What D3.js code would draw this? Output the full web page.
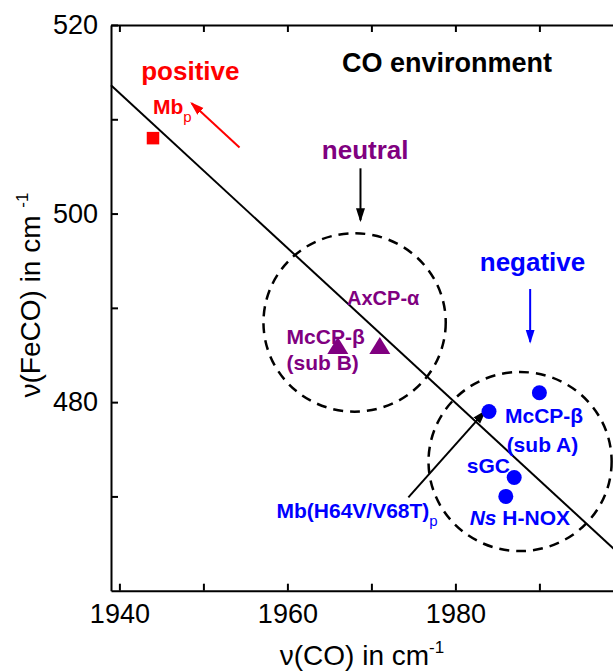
<!DOCTYPE html>
<html>
<head>
<meta charset="utf-8">
<script src="https://cdn.jsdelivr.net/npm/d3@7"></script>
<style>
  body { margin: 0; background: #fff; }
  svg { display: block; font-family: "Liberation Sans", Arial, sans-serif; }
</style>
</head>
<body>
<svg id="chart" width="613" height="671"></svg>
<script>
// ticks
var xTicks = [1940, 1950, 1960, 1970, 1980, 1990];
var xLabeled = [1940, 1960, 1980];
var yTicks = [470, 480, 490, 500, 510, 520];
var yLabeled = [480, 500, 520];

// linear fit through the data
var fitX = [1939, 2000];
var fitY = [513.6, 463.5];

// points  (v(CO), v(FeCO))
var positiveX = [1944];
var positiveY = [508];
var neutralX = [1966, 1971];
var neutralY = [486, 486];
var negativeX = [1984, 1990, 1987, 1986];
var negativeY = [479, 481, 472, 470];

// dashed group outlines (centre and half widths, data units)
var groupCx = [1968, 1987.7];
var groupCy = [488.45, 473.7];
var groupRx = [10.85, 10.9];
var groupRy = [9.46, 9.5];

var svg = d3.select("svg#chart"),
    margin = {top: 25, left: 111, bottom: 80.3},
    height = 671;

var x = d3.scaleLinear()
    .domain([1939, 2000])
    .range([margin.left, margin.left + 61 * 8.4]);

var y = d3.scaleLinear()
    .domain([460, 520])
    .range([height - margin.bottom, margin.top]);

var red = "#ff0000", purple = "#800080", blue = "#0000ff";

// arrow heads
var defs = svg.append("defs");
[["red", red], ["black", "#000"], ["blue", blue]].forEach(function(c) {
  defs.append("marker")
      .attr("id", "head-" + c[0])
      .attr("markerUnits", "userSpaceOnUse")
      .attr("viewBox", "0 -6 14 12")
      .attr("refX", 12)
      .attr("refY", 0)
      .attr("markerWidth", 14)
      .attr("markerHeight", 12)
      .attr("orient", "auto")
    .append("path")
      .attr("d", "M0,-4.5L14,0L0,4.5Z")
      .attr("fill", c[1]);
});

// axes
var fmtX = d => xLabeled.includes(d) ? d : "";
var fmtY = d => yLabeled.includes(d) ? d : "";

var xAxis = svg.append("g")
    .attr("transform", translate(0, y(460)))
    .call(d3.axisBottom(x).tickValues(xTicks).tickFormat(fmtX)
      .tickSizeInner(-7).tickSizeOuter(0).tickPadding(13));
svg.append("g")
    .attr("transform", translate(0, y(520)))
    .call(d3.axisTop(x).tickValues(xTicks).tickFormat("")
      .tickSizeInner(-7).tickSizeOuter(0));
var yAxis = svg.append("g")
    .attr("transform", translate(x(1939), 0))
    .call(d3.axisLeft(y).tickValues(yTicks).tickFormat(fmtY)
      .tickSizeInner(-7).tickSizeOuter(0).tickPadding(13));

svg.selectAll(".domain").attr("stroke-width", 2);
svg.selectAll(".tick line").attr("stroke-width", 2);
svg.selectAll(".tick text")
    .attr("font-size", 27)
    .attr("font-family", "Liberation Sans, Arial, sans-serif")
    .attr("fill", "#000");

// axis titles
var xt = svg.append("text")
    .attr("x", 362).attr("y", 665)
    .attr("text-anchor", "middle")
    .attr("font-size", 28);
xt.append("tspan").text("\u03bd(CO) in cm");
xt.append("tspan").attr("font-size", 17).attr("dy", -12).text("-1");

var yt = svg.append("text")
    .attr("transform", "translate(40,295) rotate(-90)")
    .attr("text-anchor", "middle")
    .attr("font-size", 28);
yt.append("tspan").text("\u03bd(FeCO) in cm ");
yt.append("tspan").attr("font-size", 17).attr("dy", -12).text("-1");

// fit line
svg.append("line")
    .attr("x1", x(fitX[0])).attr("y1", y(fitY[0]))
    .attr("x2", x(fitX[1])).attr("y2", y(fitY[1]))
    .attr("stroke", "#000").attr("stroke-width", 2);

// dashed ellipses
svg.selectAll("ellipse.group")
  .data(groupCx)
  .enter().append("ellipse")
    .attr("class", "group")
    .attr("cx", (d, i) => x(d))
    .attr("cy", (d, i) => y(groupCy[i]))
    .attr("rx", (d, i) => x(d + groupRx[i]) - x(d))
    .attr("ry", (d, i) => y(groupCy[i] - groupRy[i]) - y(groupCy[i]))
    .attr("fill", "none")
    .attr("stroke", "#000")
    .attr("stroke-width", 2.5)
    .attr("stroke-dasharray", "10,7");

// arrows [x1, y1, x2, y2, colour]
var arrows = [
  [1954.3, 507.0, 1948.6, 511.7, "red"],
  [1968.7, 504.8, 1968.7, 499.3, "black"],
  [1988.9, 492.0, 1988.9, 486.4, "blue"],
  [1974.4, 469.9, 1983.5, 479.0, "black"]
];
var arrowColour = {red: red, black: "#000", blue: blue};
svg.selectAll("line.arrow")
  .data(arrows)
  .enter().append("line")
    .attr("class", "arrow")
    .attr("x1", d => x(d[0])).attr("y1", d => y(d[1]))
    .attr("x2", d => x(d[2])).attr("y2", d => y(d[3]))
    .attr("stroke", d => arrowColour[d[4]])
    .attr("stroke-width", 2)
    .attr("marker-end", d => "url(#head-" + d[4] + ")");

// markers
svg.selectAll("rect.pos")
  .data(positiveX)
  .enter().append("rect")
    .attr("class", "pos")
    .attr("x", d => x(d) - 6.25)
    .attr("y", (d, i) => y(positiveY[i]) - 6.25)
    .attr("width", 12.5).attr("height", 12.5)
    .attr("fill", red);

svg.selectAll("path.neu")
  .data(neutralX)
  .enter().append("path")
    .attr("class", "neu")
    .attr("transform", (d, i) => translate(x(d), y(neutralY[i])))
    .attr("d", "M0,-8.5L10.5,8.5L-10.5,8.5Z")
    .attr("fill", purple);

svg.selectAll("circle.neg")
  .data(negativeX)
  .enter().append("circle")
    .attr("class", "neg")
    .attr("cx", d => x(d))
    .attr("cy", (d, i) => y(negativeY[i]))
    .attr("r", 7.5)
    .attr("fill", blue);

// annotations [x, y, size, colour, parts]
var notes = [
  [1942.6, 514.2, 26, red, [["positive"]]],
  [1944.0, 510.6, 21, red, [["Mb"], ["p", "sub"]]],
  [1966.5, 515.05, 27, "#000", [["CO environment"]]],
  [1964.1, 505.8, 26, purple, [["neutral"]]],
  [1982.9, 493.9, 26, blue, [["negative"]]],
  [1967.1, 490.3, 20, purple, [["AxCP-\u03b1"]]],
  [1959.9, 486.2, 21, purple, [["McCP-\u03b2"]]],
  [1959.9, 483.4, 21, purple, [["(sub B)"]]],
  [1985.9, 477.8, 21, blue, [["McCP-\u03b2"]]],
  [1986.1, 474.75, 21, blue, [["(sub A)"]]],
  [1981.35, 472.5, 21, blue, [["sGC"]]],
  [1981.7, 467.0, 21, blue, [["Ns", "ital"], [" H-NOX"]]],
  [1958.7, 467.7, 21, blue, [["Mb(H64V/V68T)"], ["p", "sub"]]]
];

notes.forEach(function(n) {
  var t = svg.append("text")
      .attr("x", x(n[0])).attr("y", y(n[1]))
      .attr("font-size", n[2])
      .attr("font-weight", "bold")
      .attr("fill", n[3]);
  n[4].forEach(function(p) {
    var s = t.append("tspan").text(p[0]);
    if (p[1] == "sub") s.attr("font-size", 15).attr("font-weight", "normal").attr("dy", 8);
    if (p[1] == "ital") s.attr("font-style", "italic");
  });
});

/*
 * returns a translate string for the transform attribute
 */
function translate(x, y) {
  return 'translate(' + String(x) + ',' + String(y) + ')';
}
</script>
</body>
</html>
